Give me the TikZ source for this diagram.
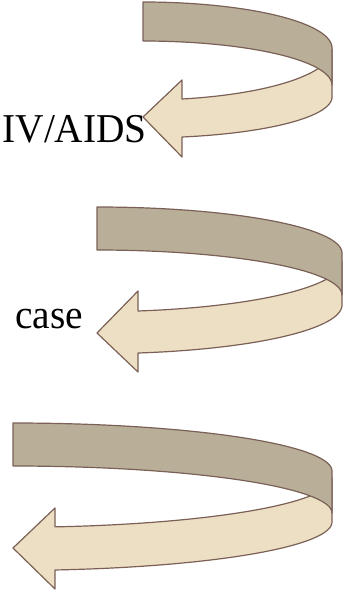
\documentclass[tikz,border=0pt]{standalone}
\usepackage{fontspec}
\setmainfont{Liberation Serif}

\definecolor{bandback}{RGB}{185,175,153}
\definecolor{bandfront}{RGB}{237,223,195}
\definecolor{bandline}{RGB}{122,96,86}

\pgfkeys{/ribbon/.cd,
  xl/.initial=0, xs/.initial=0, xr/.initial=0,
  yt/.initial=0, yb/.initial=0, yra/.initial=0, yrb/.initial=0,
  ftc/.initial=0, ftr/.initial=0, fbc/.initial=0, fbr/.initial=0,
  ht/.initial=0, hb/.initial=0, tip/.initial=0}

% A ribbon bent round an ellipse: the light front half ends in an arrow head,
% the darker back half is laid over it where it shows through.
\newcommand\ribbonarrow[1]{%
  \pgfkeys{/ribbon/.cd,#1}%
  \pgfmathsetmacro\XL{\pgfkeysvalueof{/ribbon/xl}}%
  \pgfmathsetmacro\XS{\pgfkeysvalueof{/ribbon/xs}}%
  \pgfmathsetmacro\XR{\pgfkeysvalueof{/ribbon/xr}}%
  \pgfmathsetmacro\YT{\pgfkeysvalueof{/ribbon/yt}}%
  \pgfmathsetmacro\YB{\pgfkeysvalueof{/ribbon/yb}}%
  \pgfmathsetmacro\YRA{\pgfkeysvalueof{/ribbon/yra}}%
  \pgfmathsetmacro\YRB{\pgfkeysvalueof{/ribbon/yrb}}%
  \pgfmathsetmacro\FTC{\pgfkeysvalueof{/ribbon/ftc}}%
  \pgfmathsetmacro\FTR{\pgfkeysvalueof{/ribbon/ftr}}%
  \pgfmathsetmacro\FBC{\pgfkeysvalueof{/ribbon/fbc}}%
  \pgfmathsetmacro\FBR{\pgfkeysvalueof{/ribbon/fbr}}%
  \pgfmathsetmacro\HT{\pgfkeysvalueof{/ribbon/ht}}%
  \pgfmathsetmacro\HB{\pgfkeysvalueof{/ribbon/hb}}%
  \pgfmathsetmacro\TIP{\pgfkeysvalueof{/ribbon/tip}}%
  \pgfmathsetmacro\RX{\XR-\XL}%
  \pgfmathsetmacro\TS{acos((\XS-\XL)/\RX)}%
  % front half with the arrow head
  \filldraw[frontpart]
    plot[domain=0:\TS, samples=50, variable=\t]
      ({\XL+\RX*cos(\t)},{\FTC+\FTR*sin(\t)})
    -- (\XS,\HT) -- (\XL,\TIP) -- (\XS,\HB)
    -- plot[domain=\TS:0, samples=50, variable=\t]
      ({\XL+\RX*cos(\t)},{\FBC+\FBR*sin(\t)})
    -- cycle;
  % back half
  \filldraw[backpart]
    plot[domain=90:0, samples=50, variable=\t]
      ({\XL+\RX*cos(\t)},{\YRA-(\YRA-\YT)*sin(\t)})
    -- plot[domain=0:90, samples=50, variable=\t]
      ({\XL+\RX*cos(\t)},{\YRB-(\YRB-\YB)*sin(\t)})
    -- cycle;
}

\newcommand\labeltext[1]{\scalebox{0.96}[1]{#1}}

\tikzset{
  frontpart/.style={fill=bandfront, draw=bandline, line width=1.2pt, line join=round},
  backpart/.style={fill=bandback, draw=bandline, line width=1.2pt, line join=round},
  label/.style={inner sep=0pt, font=\fontsize{41}{49}\selectfont, anchor=base east}
}

\begin{document}
\begin{tikzpicture}[x=1pt, y=1pt, yscale=-1]
  \useasboundingbox (0,0) rectangle (343,593);

  \ribbonarrow{xl=143, xs=182, xr=332, yt=2, yb=41, yra=48, yrb=85,
    ftc=49.6, ftr=50.5, fbc=97, fbr=40.9, ht=80, hb=157, tip=117}
  \ribbonarrow{xl=97, xs=138, xr=342, yt=207, yb=250, yra=253, yrb=295,
    ftc=261.7, ftr=50, fbc=305, fbr=48.7, ht=291, hb=372, tip=333}
  \ribbonarrow{xl=13, xs=55, xr=332, yt=423, yb=466, yra=471, yrb=513,
    ftc=478, ftr=49.3, fbc=522, fbr=48.4, ht=508, hb=589, tip=548}

  \node[label] (hiv) at (147,143) {\labeltext{IV/AIDS}};
  \node[label] (case) at (83,328) {\labeltext{case}};
\end{tikzpicture}
\end{document}
